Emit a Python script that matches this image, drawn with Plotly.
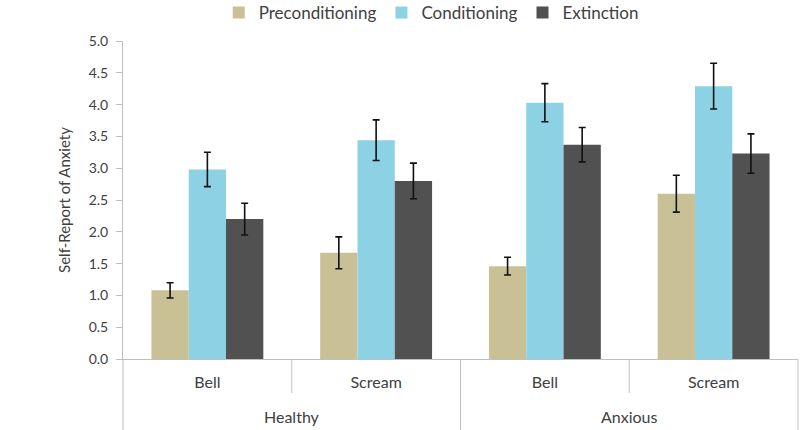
import plotly.graph_objects as go

groups = ["Healthy", "Healthy", "Anxious", "Anxious"]
stimuli = ["Bell", "Scream", "Bell", "Scream"]

precond = [1.08, 1.67, 1.46, 2.60]
precond_err = [0.12, 0.25, 0.14, 0.29]
cond = [2.98, 3.44, 4.03, 4.29]
cond_err = [0.27, 0.32, 0.30, 0.36]
extinct = [2.20, 2.80, 3.37, 3.23]
extinct_err = [0.25, 0.28, 0.27, 0.31]

y_ticks = [0, 0.5, 1, 1.5, 2, 2.5, 3, 3.5, 4, 4.5, 5]
y_ticktext = [f"{v:.1f}" for v in y_ticks]

series = [
    ("Preconditioning", precond, precond_err, "#C9C096"),
    ("Conditioning", cond, cond_err, "#8DD1E5"),
    ("Extinction", extinct, extinct_err, "#515151"),
]

x_cats = [f"{g} {s}" for g, s in zip(groups, stimuli)]

FONT = "Lato"
TXT = "#404040"
AX = "#BFBFBF"

fig = go.Figure()
for name, vals, errs, color in series:
    fig.add_trace(go.Bar(
        name=name,
        x=x_cats,
        y=vals,
        marker=dict(color=color, line=dict(width=0)),
        error_y=dict(type="data", array=errs, color="#111111", thickness=1.6, width=3.5),
    ))

fig.update_layout(
    width=800, height=430,
    margin=dict(l=123, r=2, t=41, b=71, autoexpand=False),
    paper_bgcolor="white", plot_bgcolor="white",
    barmode="group", bargap=0.337, bargroupgap=0,
    font=dict(family=FONT, color=TXT, size=14),
    legend=dict(orientation="h", x=0.539, xanchor="center", xref="container",
                y=1.088, yanchor="middle", yref="paper",
                font=dict(size=17, color=TXT), traceorder="normal"),
    xaxis=dict(
        type="category",
        tickvals=x_cats, ticktext=stimuli,
        showline=True, linecolor=AX, linewidth=1,
        tickfont=dict(size=16, color=TXT),
        range=[-0.5, len(x_cats) - 0.5],
        ticks="", ticklabelstandoff=9,
        automargin=False,
    ),
    yaxis=dict(
        range=[0, 5], tickvals=y_ticks, ticktext=y_ticktext,
        showline=True, linecolor=AX, linewidth=1,
        ticks="outside", ticklen=6, tickcolor=AX, ticklabelstandoff=5,
        showgrid=False, zeroline=False,
        tickfont=dict(size=14, color=TXT),
        title=dict(text="Self-Report of Anxiety", font=dict(size=15, color=TXT), standoff=14),
        automargin=False,
    ),
)

# outer group labels, centred on their categories
outer = []
for g in groups:
    if g not in outer:
        outer.append(g)
for g in outer:
    idx = [i for i, gg in enumerate(groups) if gg == g]
    fig.add_annotation(x=sum(idx) / len(idx), xref="x", y=-0.182, yref="paper",
                       text=g, showarrow=False, yanchor="middle",
                       font=dict(size=16, color=TXT))

# dividers: long at outer-group boundaries, short between inner categories
n = len(groups)
for i in range(n + 1):
    xd = i / n
    long_div = (i == 0 or i == n or groups[i] != groups[i - 1])
    fig.add_shape(type="line", xref="x domain", yref="paper",
                  x0=xd, x1=xd, y0=0, y1=(-0.23 if long_div else -0.107),
                  line=dict(color=AX, width=1))

# remove the default page margin so the 800x430 figure fills the window exactly
fig.write_html("out.html", config={"displayModeBar": False},
               post_script="document.body.style.margin='0';")
